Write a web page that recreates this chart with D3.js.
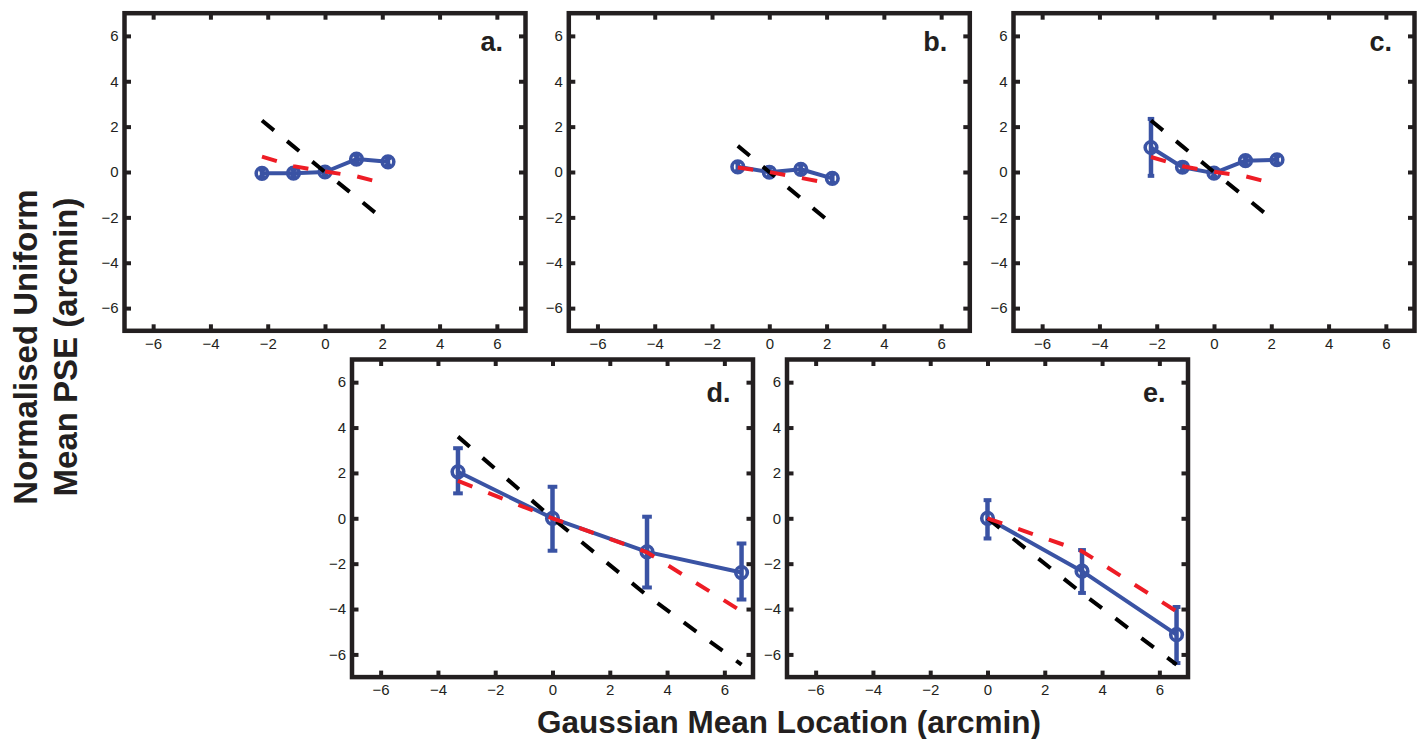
<!DOCTYPE html>
<html>
<head>
<meta charset="utf-8">
<script src="https://cdn.jsdelivr.net/npm/d3@7"></script>
<style>
  html, body { margin: 0; padding: 0; background: #fff; }
  svg { display: block; font-family: "Liberation Sans", Arial, Helvetica, sans-serif; }
</style>
</head>
<body>
<svg id="chart" width="1421" height="739"></svg>
<script>
// Axis ticks shared by every panel
const tickValues = [-6, -4, -2, 0, 2, 4, 6];
const panelLabels = ["a.", "b.", "c.", "d.", "e."];

// Panel a
const aX = [-2.2, -1.1, 0, 1.1, 2.2];
const aMean = [-0.06, -0.05, 0, 0.57, 0.45];
const aLow = [-0.23, -0.22, -0.17, 0.4, 0.28];
const aHigh = [0.11, 0.12, 0.17, 0.74, 0.62];
const aVeridical = [2.27, 1.13, 0, -1.12, -2.25];
const aModel = [0.68, 0.26, 0.02, -0.19, -0.55];

// Panel b
const bX = [-1.1, 0, 1.1, 2.2];
const bMean = [0.23, -0.01, 0.12, -0.28];
const bLow = [0.03, -0.21, -0.08, -0.48];
const bHigh = [0.43, 0.19, 0.32, -0.08];
const bVeridical = [1.15, 0, -1.15, -2.3];
const bModel = [0.2, 0, -0.26, -0.52];

// Panel c
const cX = [-2.2, -1.1, 0, 1.1, 2.2];
const cMean = [1.08, 0.21, -0.05, 0.5, 0.54];
const cLow = [-0.17, 0.04, -0.22, 0.33, 0.37];
const cHigh = [2.34, 0.38, 0.12, 0.67, 0.71];
const cVeridical = [2.27, 1.13, 0, -1.12, -2.25];
const cModel = [0.66, 0.25, 0.01, -0.19, -0.55];

// Panel d
const dX = [-3.3, 0, 3.3, 6.6];
const dMean = [2.05, 0, -1.48, -2.39];
const dLow = [1.1, -1.43, -3.05, -3.58];
const dHigh = [3.09, 1.39, 0.07, -1.11];
const dVeridical = [3.6, 0, -3.4, -6.45];
const dModel = [1.65, 0, -1.5, -4.1];

// Panel e
const eX = [0, 3.3, 6.6];
const eMean = [0, -2.33, -5.13];
const eLow = [-0.89, -3.29, -6.38];
const eHigh = [0.8, -1.4, -3.91];
const eVeridical = [0, -3.3, -6.45];
const eModel = [0, -1.45, -4.1];

const xTitle = "Gaussian Mean Location (arcmin)";
const yTitleLines = ["Normalised Uniform", "Mean PSE (arcmin)"];

// Colours and line styles
const INK = "#231f20";
const BLUE = "#3a53a4";
const RED = "#ee1c25";
const BLACK = "#000000";
const DASH = "15.5,17";
const FONT = "'Liberation Sans', Arial, Helvetica, sans-serif";

const W = 401, H = 317.6;
const panels = [
  { label: panelLabels[0], left: 124.5, top: 13.2, x: aX, mean: aMean, low: aLow, high: aHigh, ver: aVeridical, model: aModel, labelDy: 37.5 },
  { label: panelLabels[1], left: 568.8, top: 13.2, x: bX, mean: bMean, low: bLow, high: bHigh, ver: bVeridical, model: bModel, labelDy: 37.5 },
  { label: panelLabels[2], left: 1013.5, top: 13.2, x: cX, mean: cMean, low: cLow, high: cHigh, ver: cVeridical, model: cModel, labelDy: 37.5 },
  { label: panelLabels[3], left: 352, top: 359.5, x: dX, mean: dMean, low: dLow, high: dHigh, ver: dVeridical, model: dModel, labelDy: 42 },
  { label: panelLabels[4], left: 787, top: 359.5, x: eX, mean: eMean, low: eLow, high: eHigh, ver: eVeridical, model: eModel, labelDy: 42 }
];

const svg = d3.select("#chart");
svg.append("rect").attr("width", 1421).attr("height", 739).attr("fill", "#fff");

panels.forEach(p => {
  const x = d3.scaleLinear().domain([-7, 7]).range([p.left, p.left + W]);
  const y = d3.scaleLinear().domain([-7, 7]).range([p.top + H, p.top]);
  const g = svg.append("g");

  // Axes: inward ticks on all four sides, labels on bottom and left
  const styleAxis = sel => {
    sel.attr("font-family", FONT).attr("font-size", 15);
    sel.select(".domain").remove();
    sel.selectAll(".tick line").attr("stroke", INK).attr("stroke-width", 4);
    sel.selectAll(".tick text").attr("fill", INK);
  };
  g.append("g").attr("transform", `translate(0,${p.top + H})`)
    .call(d3.axisBottom(x).tickValues(tickValues).tickSize(-6.5).tickPadding(7.5).tickFormat(d3.format("d")))
    .call(styleAxis);
  g.append("g").attr("transform", `translate(0,${p.top})`)
    .call(d3.axisTop(x).tickValues(tickValues).tickSize(-6.5).tickFormat(() => ""))
    .call(styleAxis);
  g.append("g").attr("transform", `translate(${p.left},0)`)
    .call(d3.axisLeft(y).tickValues(tickValues).tickSize(-6.5).tickPadding(6).tickFormat(d3.format("d")))
    .call(styleAxis);
  g.append("g").attr("transform", `translate(${p.left + W},0)`)
    .call(d3.axisRight(y).tickValues(tickValues).tickSize(-6.5).tickFormat(() => ""))
    .call(styleAxis);

  // Box frame
  g.append("rect")
    .attr("x", x(-7)).attr("y", y(7))
    .attr("width", x(7) - x(-7)).attr("height", y(-7) - y(7))
    .attr("fill", "none").attr("stroke", INK).attr("stroke-width", 4.5);

  const pts = p.x.map((v, i) => ({ x: v, mean: p.mean[i], low: p.low[i], high: p.high[i], ver: p.ver[i], model: p.model[i] }));
  const line = key => d3.line().x(d => x(d.x)).y(d => y(d[key]));

  // Measured PSE shifts
  g.append("path").datum(pts).attr("d", line("mean"))
    .attr("fill", "none").attr("stroke", BLUE).attr("stroke-width", 4).attr("stroke-linejoin", "round");

  const xRange = d3.max(p.x) - d3.min(p.x);
  const capHalf = x(xRange / 100) - x(0) + 2;
  const bars = g.append("g").attr("stroke", BLUE).attr("stroke-width", 4);
  bars.selectAll(".bar").data(pts).join("line").attr("class", "bar")
    .attr("x1", d => x(d.x)).attr("x2", d => x(d.x))
    .attr("y1", d => y(d.low)).attr("y2", d => y(d.high))
    .attr("stroke-width", 4.5);
  ["low", "high"].forEach(k => {
    bars.selectAll(".cap-" + k).data(pts).join("line").attr("class", "cap-" + k)
      .attr("x1", d => x(d.x) - capHalf).attr("x2", d => x(d.x) + capHalf)
      .attr("y1", d => y(d[k])).attr("y2", d => y(d[k]));
  });
  g.selectAll(".marker").data(pts).join("circle").attr("class", "marker")
    .attr("cx", d => x(d.x)).attr("cy", d => y(d.mean)).attr("r", 5.8)
    .attr("fill", "none").attr("stroke", BLUE).attr("stroke-width", 3.6);

  // Veridical shift (black) and model prediction (red)
  g.append("path").datum(pts).attr("d", line("ver"))
    .attr("fill", "none").attr("stroke", BLACK).attr("stroke-width", 4).attr("stroke-dasharray", DASH);
  g.append("path").datum(pts).attr("d", line("model"))
    .attr("fill", "none").attr("stroke", RED).attr("stroke-width", 4).attr("stroke-dasharray", DASH);

  // Panel letter
  g.append("text")
    .attr("x", x(7) - 22.5).attr("y", y(7) + p.labelDy)
    .attr("text-anchor", "end").attr("font-weight", "bold").attr("font-size", 27)
    .attr("fill", INK).text(p.label);
});

// Shared axis titles
svg.append("text")
  .attr("x", 789).attr("y", 732.5).attr("text-anchor", "middle")
  .attr("font-weight", "bold").attr("font-size", 31.5).attr("fill", INK)
  .text(xTitle);

const yBaselines = [36.7, 77.3];
yTitleLines.forEach((t, i) => {
  svg.append("text")
    .attr("transform", `translate(${yBaselines[i]},347) rotate(-90)`)
    .attr("text-anchor", "middle")
    .attr("font-weight", "bold").attr("font-size", 33).attr("fill", INK)
    .text(t);
});
</script>
</body>
</html>
